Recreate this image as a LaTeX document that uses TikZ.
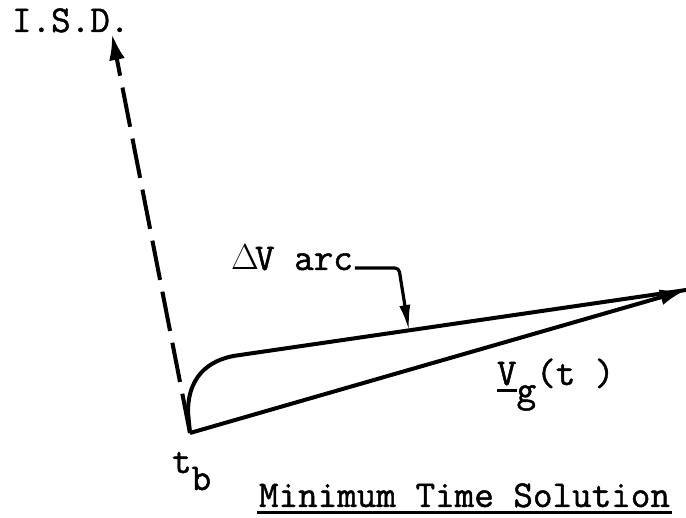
\documentclass[tikz,border=0pt]{standalone}
\usepackage{fontspec}
\newfontfamily\typefont{Latin Modern Mono}[FakeBold=1.2]
\usetikzlibrary{arrows.meta}
\newcommand{\typeul}[2][0pt]{\setbox0\hbox{#2}\rlap{\hspace{-#1}\rule[-7pt]{\dimexpr\wd0+2\dimexpr#1\relax}{3pt}}\box0}

\begin{document}
\begin{tikzpicture}[x=1pt, y=-1pt, line width=4pt,
  lbl/.style={font=\fontsize{38}{44}\typefont, inner sep=0pt, anchor=base west},
  vec/.style={-{Latex[length=26pt, width=16pt]}},
  isdline/.style={vec, dash pattern=on 40pt off 12pt},
  ptr/.style={-{Latex[length=26pt, width=11pt]}, line width=3.2pt}]
 \useasboundingbox (0,0) rectangle (686,518);
 \coordinate (tb) at (190,433);
 \coordinate (isd) at (112,34);
 \coordinate (tip) at (686,290);
 \coordinate (knee) at (240,355);
 \coordinate (hit) at (409,331);
 \draw[isdline] (tb) -- (isd);
 \draw[vec] (tb) -- (tip);
 \draw (tb) -- (188,412) .. controls (188,372) and (214,358) .. (knee) -- (tip);
 \node[lbl] (isdlbl) at (10,32) {I.S.D.};
 \node[lbl] (dv) at (233,270) {\makebox[20pt]{\scalebox{1.45}{$\Delta$}}V arc};
 \draw[ptr, rounded corners=4pt] (dv.base east) ++(0,-2) -- ++(44,0) -- (hit);
 \node[lbl] (vg) at (495,385) {\typeul{V}\raisebox{-17pt}{g}(t\ )};
 \node[lbl] (tblbl) at (170,473) {t\raisebox{-17pt}{b}};
 \node[lbl] (title) at (257,507) {\typeul[2pt]{Minimum Time Solution}};
\end{tikzpicture}
\end{document}
